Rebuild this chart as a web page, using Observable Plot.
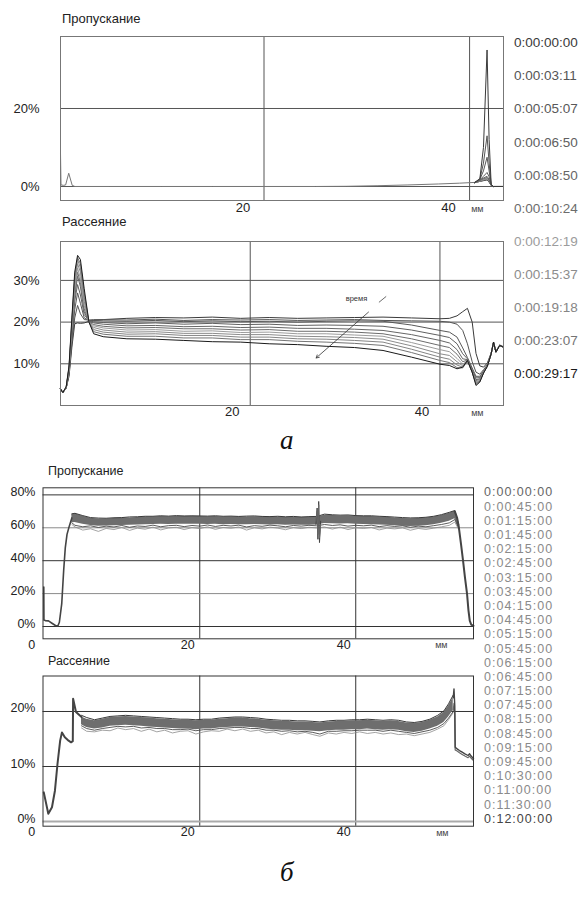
<!DOCTYPE html>
<html><head><meta charset="utf-8">
<script src="https://cdn.jsdelivr.net/npm/d3@7"></script>
<script src="https://cdn.jsdelivr.net/npm/@observablehq/plot@0.6"></script>
<style>
body{margin:0;background:#fff;}
#page{position:relative;width:579px;height:897px;overflow:hidden;font-family:"Liberation Sans",Arial,sans-serif;color:#222;}
.abs{position:absolute;white-space:nowrap;line-height:1;}
</style></head><body><div id="page"></div>
<script>
// ---------- Panel а : time labels ----------
const timesA = ["0:00:00:00","0:00:03:11","0:00:05:07","0:00:06:50","0:00:08:50","0:00:10:24","0:00:12:19","0:00:15:37","0:00:19:18","0:00:23:07","0:00:29:17"];
const colorsA = ["#3a3a3a","#555555","#585858","#606060","#666666","#6c6c6c","#9c9c9c","#8c8c8c","#858585","#747474","#1a1a1a"];

// ---------- Panel а, Пропускание ----------
const baseXA1 = [0.2, 0.25, 0.5, 0.7, 1.0, 1.34, 1.6, 5, 10, 15, 20, 25, 28, 31, 34, 37, 39, 40.5];
const baseYA1 = [8.5, 0.4, 0.3, 0.4, 3.4, 0.3, 0, 0, 0, 0, 0, 0, 0.05, 0.2, 0.4, 0.65, 0.85, 1.05];
const spikeXA1 = [40.5, 41.0, 41.35, 41.7, 41.9, 42.1, 42.3, 43.3];
const spikesA1 = [
  [1.05, 2.0, 10, 35, 12, 0.6, 0, 0],
  [1.0, 1.9, 6, 13, 6, 0.5, 0, 0],
  [1.0, 1.8, 4, 7.5, 4, 0.4, 0, 0],
  [1.0, 1.7, 2.6, 3.6, 2.5, 0.4, 0, 0],
  [1.0, 1.6, 2.2, 2.6, 1.8, 0.3, 0, 0],
  [1.0, 1.5, 2.0, 2.3, 1.6, 0.3, 0, 0],
  [1.0, 1.5, 1.9, 2.1, 1.5, 0.3, 0, 0],
  [1.0, 1.4, 1.8, 2.0, 1.4, 0.3, 0, 0],
  [1.0, 1.4, 1.7, 1.9, 1.3, 0.3, 0, 0],
  [1.0, 1.3, 1.6, 1.8, 1.2, 0.3, 0, 0],
  [1.0, 1.3, 1.5, 1.7, 1.1, 0.3, 0, 0]
];
const xTicksA = [20, 40];
const yTicksA1 = [0, 20];

// ---------- Panel а, Рассеяние ----------
const xsA2 = [0, 0.25, 0.6, 0.9, 1.2, 1.5, 1.8, 2.1, 2.5, 3.0, 3.5,
  4.5, 7, 10, 13, 16, 19, 22, 25, 28, 31, 34, 37, 40,
  41, 41.8, 42.4, 42.9, 43.4, 43.8, 44.2, 44.6, 45.0, 45.4, 45.65, 45.9, 46.3, 46.7];
const seriesA2 = [
  [4.0,3.1,4.2,7.0,14.0,19.6,19.8,19.7,19.8,20.2,20.4, 20.6,20.9,21.1,21.0,21.2,20.9,21.1,20.9,21.0,21.1,21.2,21.0,20.8, 20.9,21.5,22.5,23.3,20.0,12.5,9.5,9.2,10.2,12.6,15.0,13.0,14.5,14.1],
  [4.0,3.1,4.2,7.5,15.0,21.0,24.0,22.0,20.6,20.5,20.6, 20.6,20.5,20.7,20.4,20.6,20.5,20.6,20.4,20.5,20.6,20.4,20.3,20.2, 20.0,19.5,18.0,14.8,10.5,8.0,7.5,8.6,9.8,12.5,15.1,12.9,14.5,14.0],
  [4.0,3.1,4.2,7.8,16.0,23.0,27.0,24.5,21.0,20.4,20.4, 20.3,20.2,20.4,20.1,20.3,20.1,20.2,20.0,20.2,20.3,20.2,19.3,18.0, 17.6,16.4,13.8,11.5,9.0,7.0,7.0,8.3,9.7,12.5,15.1,12.9,14.4,14.0],
  [4.0,3.1,4.2,8.0,17.0,25.0,29.0,26.5,21.8,20.3,20.1, 19.9,19.6,19.8,19.5,19.7,19.4,19.5,19.2,19.3,19.2,19.0,18.1,16.8, 16.3,14.8,12.4,11.2,8.6,6.6,6.7,8.2,9.6,12.4,15.1,12.8,14.4,14.0],
  [4.0,3.1,4.3,8.2,18.0,26.0,31.0,28.5,22.5,20.1,19.8, 19.5,19.1,19.2,18.9,19.0,18.7,18.8,18.5,18.5,18.3,18.0,17.0,15.6, 15.0,13.4,11.2,11.0,8.3,6.2,6.4,8.1,9.6,12.4,15.2,12.8,14.4,14.0],
  [4.0,3.1,4.3,8.4,18.5,27.0,32.0,29.5,23.2,20.0,19.4, 19.0,18.6,18.7,18.4,18.4,18.1,18.2,17.8,17.8,17.6,17.2,16.0,14.4, 13.9,12.3,10.5,10.9,8.2,6.0,6.2,8.0,9.5,12.4,15.2,12.8,14.4,14.0],
  [4.0,3.1,4.3,8.6,19.0,28.0,33.0,30.5,24.0,20.0,19.1, 18.6,18.1,18.2,17.8,17.9,17.5,17.6,17.2,17.2,16.9,16.6,15.1,13.4, 12.9,11.3,9.9,10.8,8.1,5.7,6.0,8.0,9.5,12.4,15.2,12.8,14.4,14.0],
  [4.0,3.1,4.4,8.8,19.5,29.0,34.0,32.0,25.0,20.0,18.7, 18.1,17.6,17.7,17.3,17.3,17.0,17.0,16.6,16.5,16.3,15.9,14.3,12.4, 12.0,10.5,9.5,10.8,8.0,5.5,5.9,7.9,9.5,12.4,15.2,12.8,14.4,14.0],
  [4.0,3.1,4.4,9.0,20.0,30.0,35.0,33.0,26.0,20.0,18.2, 17.6,17.1,17.2,16.8,16.8,16.4,16.4,16.0,15.9,15.6,15.2,13.5,11.6, 11.1,9.7,9.2,10.8,8.0,5.3,5.8,7.9,9.4,12.4,15.2,12.8,14.4,14.0],
  [4.0,3.1,4.5,9.2,20.5,31.0,35.5,34.0,27.0,20.0,17.7, 17.1,16.6,16.6,16.2,16.2,15.8,15.8,15.4,15.2,14.9,14.4,12.7,10.8, 10.3,9.1,9.0,10.7,7.9,5.1,5.7,7.8,9.4,12.3,15.2,12.8,14.4,13.9],
  [4.0,3.1,4.5,9.5,21.0,32.0,36.0,35.0,28.0,20.0,17.2, 16.5,16.0,15.9,15.6,15.3,15.2,14.8,14.6,14.2,13.9,13.2,11.6,9.9, 9.6,8.8,9.2,10.8,8.0,4.8,5.6,7.8,9.4,12.4,15.2,12.8,14.4,14.0]
];
const yTicksA2 = [10, 20, 30];
const arrowA2 = [{x1: 32.47, y1: 22.4, x2: 26.95, y2: 11.4}];
const dashXA2 = [33.6, 34.3];
const dashYA2 = [24.8, 26.1];
const noteA2 = [{x: 31.2, y: 25.6, text: "время"}];

// ---------- Panel б : time labels ----------
const timesB = ["0:00:00:00","0:00:45:00","0:01:15:00","0:01:45:00","0:02:15:00","0:02:45:00","0:03:15:00","0:03:45:00","0:04:15:00","0:04:45:00","0:05:15:00","0:05:45:00","0:06:15:00","0:06:45:00","0:07:15:00","0:07:45:00","0:08:15:00","0:08:45:00","0:09:15:00","0:09:45:00","0:10:30:00","0:11:00:00","0:11:30:00","0:12:00:00"];

// ---------- Panel б, Пропускание ----------
const leftXB1 = [0, 0.02, 0.2, 0.6, 1.05, 1.5, 1.8, 2.0, 2.3, 2.55, 2.76, 2.98, 3.27, 3.6];
const leftYB1 = [24, 4, 3.6, 3.4, 2.0, 0.6, 0.3, 2.6, 13.7, 34, 48, 56, 61, 66];
const bandXB1 = [3.6, 4, 5, 6, 7, 8, 9, 10, 11, 12, 13, 14, 15, 16, 17, 18, 19, 20, 21, 22, 23, 24, 25, 26, 27, 28, 29, 30, 31, 32, 33, 34, 35, 36, 37, 38, 39, 40, 41, 42, 43, 44, 45, 46, 47, 48, 49, 50, 51, 52, 52.7, 53.2];
const topB1 = [68, 68.5, 67, 65.8, 65.3, 65.4, 65.6, 65.8, 66, 66.3, 66.5, 66.6, 66.8, 66.7, 66.9, 66.8, 66.9, 66.8, 66.7, 66.8, 66.6, 66.7, 66.5, 66.6, 66.7, 66.5, 66.4, 66.5, 66.3, 66.4, 66.2, 66.3, 66.4, 67.6, 67.4, 67.2, 67.3, 67.0, 66.9, 66.8, 66.6, 66.4, 66.0, 65.7, 65.5, 65.6, 65.9, 66.5, 67.5, 68.8, 70, 62];
const bottomB1 = [63, 63.2, 62.2, 61.4, 61.0, 61.1, 61.2, 61.4, 61.5, 61.7, 61.9, 62.0, 62.1, 62.0, 62.2, 62.1, 62.2, 62.1, 62.0, 62.1, 61.9, 62.0, 61.8, 61.9, 62.0, 61.8, 61.7, 61.8, 61.6, 61.7, 61.5, 61.6, 61.7, 62.6, 62.5, 62.3, 62.4, 62.1, 62.0, 61.9, 61.7, 61.5, 61.2, 60.9, 60.8, 60.9, 61.2, 61.8, 62.8, 64.0, 65.5, 60];
const lowB1 = [62, 60.5, 58.6, 59.4, 57.8, 59.6, 58.9, 60.2, 58.4, 59.8, 59.1, 60.4, 58.7, 59.9, 60.3, 58.9, 60.1, 59.5, 60.6, 59.0, 60.2, 59.7, 60.5, 58.6, 60.0, 59.3, 60.4, 59.8, 58.8, 60.1, 59.5, 60.3, 59.9, 60.5, 59.2, 60.4, 58.9, 60.0, 59.6, 60.2, 58.7, 59.8, 59.3, 60.0, 58.5, 59.6, 59.0, 59.8, 60.6, 61.5, 63.5, 59];
const midB1 = [63, 61.5, 60.6, 61.2, 60.2, 61.0, 60.5, 61.4, 60.3, 61.1, 60.8, 61.6, 60.6, 61.3, 61.5, 60.7, 61.4, 61.0, 61.7, 60.8, 61.5, 61.1, 61.6, 60.5, 61.3, 60.9, 61.6, 61.2, 60.6, 61.4, 61.0, 61.5, 61.2, 62.0, 61.4, 61.8, 61.0, 61.5, 61.2, 61.6, 60.7, 61.3, 60.8, 61.2, 60.3, 61.0, 60.6, 61.3, 62.0, 63.0, 65, 60];
const highB1 = [68.5, 68.8, 67.4, 66.2, 65.9, 65.8, 66.1, 66.2, 66.6, 66.7, 67.0, 67.0, 67.3, 67.1, 67.4, 67.2, 67.3, 67.2, 67.1, 67.3, 67.0, 67.1, 66.9, 67.1, 67.2, 66.9, 66.8, 67.0, 66.7, 66.9, 66.6, 66.8, 66.9, 68.3, 67.9, 67.7, 67.8, 67.4, 67.3, 67.3, 67.0, 66.8, 66.5, 66.2, 66.0, 66.1, 66.4, 67.0, 68.0, 69.4, 70.5, 62];
const spikeXB1 = [34.9, 35.05, 35.15, 35.25, 35.35, 35.5];
const spikeYB1a = [62, 72, 53, 76, 51, 64];
const spikeYB1b = [64, 70, 56, 74, 54, 62];
const rightXB1 = [52.7, 53.0, 53.2, 53.5, 53.76, 54.0, 54.27, 54.45, 54.62, 54.8, 55.05, 55.1];
const rightYB1 = [70, 66, 61, 50, 40, 30, 20, 10, 3.6, 1.2, 0.5, 0.5];
const xTicksB = [0, 20, 40];
const yTicksB1 = [0, 20, 40, 60, 80];

// ---------- Panel б, Рассеяние ----------
const leftXB2 = [0, 0.58, 1.05, 1.43, 1.76, 2.1, 2.33, 2.7, 3.18, 3.5, 3.72, 3.76, 4.13, 4.84];
const leftYB2 = [5.3, 1.4, 2.6, 5.6, 10.5, 14.7, 16.2, 15.3, 14.7, 14.4, 14.6, 22.3, 19.9, 19.0];
const bandXB2 = [4.84, 5.5, 6.5, 7.5, 8.5, 9.5, 10.5, 11.5, 12.5, 13.5, 14.5, 15.5, 16.5, 17.5, 18.5, 19.5, 20.5, 21.5, 22.5, 23.5, 24.5, 25.5, 26.5, 27.5, 28.5, 29.5, 30.5, 31.5, 32.5, 33.5, 34.5, 35.4, 36.5, 37.5, 38.5, 39.5, 40.5, 41.5, 42.5, 43.5, 44.5, 45.5, 46.5, 47.5, 48.5, 49.5, 50.5, 51.3, 51.9, 52.5];
const topB2 = [19.0, 18.6, 18.3, 18.6, 18.9, 19.0, 19.1, 19.0, 18.9, 18.8, 18.7, 18.6, 18.5, 18.4, 18.4, 18.3, 18.4, 18.4, 18.6, 18.7, 18.8, 18.8, 18.7, 18.6, 18.4, 18.3, 18.2, 18.2, 18.1, 18.1, 18.0, 17.9, 18.1, 18.2, 18.2, 18.3, 18.3, 18.4, 18.3, 18.2, 18.3, 18.2, 17.9, 17.8, 18.0, 18.4, 19.0, 19.8, 21.0, 22.5];
const bottomB2 = [17.6, 17.1, 16.8, 17.0, 17.3, 17.4, 17.5, 17.4, 17.3, 17.2, 17.1, 17.0, 16.9, 16.8, 16.8, 16.7, 16.8, 16.8, 17.0, 17.1, 17.2, 17.2, 17.1, 17.0, 16.8, 16.7, 16.6, 16.6, 16.5, 16.5, 16.4, 16.3, 16.5, 16.6, 16.6, 16.7, 16.7, 16.8, 16.7, 16.6, 16.7, 16.6, 16.3, 16.2, 16.4, 16.8, 17.3, 18.0, 19.0, 20.2];
const lowB2 = [17.0, 16.4, 16.3, 16.6, 16.5, 17.0, 16.7, 16.9, 16.4, 16.8, 16.3, 16.6, 16.1, 16.4, 16.5, 15.9, 16.3, 16.5, 16.4, 16.8, 16.5, 16.8, 16.4, 16.6, 16.1, 16.3, 15.8, 16.2, 15.9, 16.2, 15.8, 15.5, 16.1, 15.9, 16.2, 16.0, 16.3, 16.0, 16.2, 15.9, 16.1, 15.8, 15.9, 15.6, 15.9, 16.2, 16.8, 17.4, 18.5, 19.8];
const midB2 = [17.4, 16.9, 16.6, 16.9, 17.1, 17.3, 17.2, 17.3, 17.0, 17.1, 16.9, 16.9, 16.7, 16.7, 16.8, 16.5, 16.7, 16.7, 16.9, 17.0, 17.1, 17.1, 16.9, 16.9, 16.6, 16.6, 16.4, 16.5, 16.3, 16.4, 16.2, 15.9, 16.4, 16.4, 16.5, 16.5, 16.6, 16.6, 16.6, 16.4, 16.6, 16.4, 16.2, 16.0, 16.3, 16.6, 17.1, 17.8, 18.8, 20.0];
const highB2 = [19.3, 18.9, 18.5, 18.8, 19.1, 19.2, 19.3, 19.2, 19.1, 19.0, 18.9, 18.8, 18.7, 18.6, 18.6, 18.5, 18.6, 18.6, 18.8, 18.9, 19.0, 19.0, 18.9, 18.8, 18.6, 18.5, 18.4, 18.4, 18.3, 18.3, 18.2, 18.1, 18.3, 18.4, 18.4, 18.5, 18.5, 18.6, 18.5, 18.4, 18.5, 18.4, 18.1, 18.0, 18.2, 18.6, 19.3, 20.1, 21.4, 23.0];
const rightXB2 = [52.5, 52.6, 52.7, 52.75, 53.0, 53.3, 53.65, 54.0, 54.4, 54.6, 54.8, 55.1];
const rightYB2 = [22.5, 24.1, 21.0, 13.5, 13.2, 12.9, 12.6, 12.3, 12.0, 12.3, 11.9, 11.4];
const rightYB2b = [20.2, 21.5, 19.5, 13.0, 12.8, 12.5, 12.2, 11.9, 11.6, 11.9, 11.5, 11.1];
const yTicksB2 = [0, 10, 20];

// ---------- helpers ----------
const page = document.getElementById("page");
const pts = (xs, ys) => xs.map((x, i) => ({x, y: ys[i]}));
const band = (xs, lo, hi) => xs.map((x, i) => ({x, y1: lo[i], y2: hi[i]}));
const FONT = '"Liberation Sans", Arial, sans-serif';
const style = {fontFamily: FONT, fontSize: "13px", background: "transparent", color: "#222", overflow: "visible"};
function place(el, top) { el.style.position = "absolute"; el.style.left = "0px"; el.style.top = top + "px"; page.appendChild(el); }
function text(str, left, cy, size, color, extra) {
  const d = document.createElement("div");
  d.className = "abs"; d.textContent = str;
  d.style.left = left + "px"; d.style.top = (cy - size / 2) + "px";
  d.style.fontSize = size + "px"; d.style.color = color || "#222";
  if (extra) Object.assign(d.style, extra);
  page.appendChild(d);
}

// ---------- Plot а1 ----------
const pA1 = Plot.plot({
  width: 579, height: 230, marginLeft: 60, marginRight: 76, marginTop: 36, marginBottom: 30,
  x: {domain: [0.2, 43.3], label: null}, y: {domain: [-3.59, 38.46], label: null}, style,
  marks: [
    Plot.ruleX(xTicksA, {stroke: "#555", strokeWidth: 1}),
    Plot.ruleY(yTicksA1, {stroke: "#555", strokeWidth: 1}),
    Plot.line(pts(baseXA1, baseYA1), {x: "x", y: "y", stroke: "#777", strokeWidth: 1}),
    ...spikesA1.slice().reverse().map((ys, k) => Plot.line(pts(spikeXA1, ys), {x: "x", y: "y", stroke: colorsA[spikesA1.length - 1 - k], strokeWidth: 1})),
    Plot.frame({stroke: "#777"}),
    Plot.axisY(yTicksA1, {tickSize: 0, tickPadding: 21, tickFormat: d => d + "%", fontSize: 13, fill: "#222", label: null}),
    Plot.axisX(xTicksA, {tickSize: 0, tickPadding: 2, dx: -21, fontSize: 13, fill: "#222", label: null}),
    Plot.text(["мм"], {frameAnchor: "bottom-right", dx: -20, dy: 11, fontSize: 9, fill: "#444"})
  ]
});
place(pA1, 0);

// ---------- Plot а2 ----------
const pA2 = Plot.plot({
  width: 579, height: 200, marginLeft: 60, marginRight: 76, marginTop: 11, marginBottom: 25,
  x: {domain: [0, 46.7], label: null}, y: {domain: [0, 39.33], label: null}, style,
  marks: [
    Plot.ruleX(xTicksA, {stroke: "#555", strokeWidth: 1}),
    Plot.ruleY(yTicksA2, {stroke: "#555", strokeWidth: 1}),
    ...seriesA2.map((ys, i) => Plot.line(pts(xsA2, ys), {x: "x", y: "y", stroke: colorsA[i], strokeWidth: 1})),
    Plot.arrow(arrowA2, {x1: "x1", y1: "y1", x2: "x2", y2: "y2", stroke: "#333", strokeWidth: 0.8, headLength: 6}),
    Plot.line(pts(dashXA2, dashYA2), {x: "x", y: "y", stroke: "#444", strokeWidth: 0.8}),
    Plot.text(noteA2, {x: "x", y: "y", text: "text", fontSize: 7.5, fill: "#333"}),
    Plot.frame({stroke: "#777"}),
    Plot.axisY(yTicksA2, {tickSize: 0, tickPadding: 21, tickFormat: d => d + "%", fontSize: 13, fill: "#222", label: null}),
    Plot.axisX(xTicksA, {tickSize: 0, tickPadding: 1.5, dx: -18, fontSize: 13, fill: "#222", label: null}),
    Plot.text(["мм"], {frameAnchor: "bottom-right", dx: -20, dy: 10, fontSize: 9, fill: "#444"})
  ]
});
place(pA2, 230);

// ---------- Plot б1 ----------
const pB1 = Plot.plot({
  width: 579, height: 175, marginLeft: 42.5, marginRight: 106, marginTop: 7.3, marginBottom: 16.7,
  x: {domain: [-0.1, 55.1], label: null}, y: {domain: [-7.47, 84.3], label: null}, style,
  marks: [
    Plot.ruleX([20, 40], {stroke: "#333"}),
    Plot.ruleY(yTicksB1, {stroke: d => (d === 20 || d === 60) ? "#8a8a8a" : "#333"}),
    Plot.areaY(band(bandXB1, bottomB1, topB1), {x: "x", y1: "y1", y2: "y2", fill: "#6e6e6e"}),
    Plot.line(pts(bandXB1, lowB1), {x: "x", y: "y", stroke: "#8c8c8c", strokeWidth: 0.8}),
    Plot.line(pts(bandXB1, midB1), {x: "x", y: "y", stroke: "#4a4a4a", strokeWidth: 0.9}),
    Plot.line(pts(bandXB1, highB1), {x: "x", y: "y", stroke: "#3a3a3a", strokeWidth: 1}),
    Plot.line(pts(leftXB1, leftYB1), {x: "x", y: "y", stroke: "#444", strokeWidth: 1.6}),
    Plot.line(pts(rightXB1, rightYB1), {x: "x", y: "y", stroke: "#444", strokeWidth: 2}),
    Plot.line(pts(spikeXB1, spikeYB1a), {x: "x", y: "y", stroke: "#444", strokeWidth: 1}),
    Plot.line(pts(spikeXB1, spikeYB1b), {x: "x", y: "y", stroke: "#666", strokeWidth: 1}),
    Plot.frame({stroke: "#333"}),
    Plot.axisY(yTicksB1, {tickSize: 0, tickPadding: 7.5, dy: -3, tickFormat: d => d + "%", fontSize: 12.5, fill: "#222", label: null}),
    Plot.axisX(xTicksB, {tickSize: 0, tickPadding: 1, dx: -12, fontSize: 12.5, fill: "#222", label: null}),
    Plot.text(["мм"], {frameAnchor: "bottom-right", dx: -26, dy: 9, fontSize: 9, fill: "#444"})
  ]
});
place(pB1, 480);

// ---------- Plot б2 ----------
const pB2 = Plot.plot({
  width: 579, height: 180, marginLeft: 42.5, marginRight: 106, marginTop: 10.5, marginBottom: 19.3,
  x: {domain: [-0.1, 55.1], label: null}, y: {domain: [-0.85, 26.45], label: null}, style,
  marks: [
    Plot.ruleX([20, 40], {stroke: "#333"}),
    Plot.ruleY([10, 20], {stroke: "#333"}),
    Plot.ruleY([0], {stroke: "#aaa", strokeWidth: 2}),
    Plot.areaY(band(bandXB2, bottomB2, topB2), {x: "x", y1: "y1", y2: "y2", fill: "#6e6e6e"}),
    Plot.line(pts(bandXB2, lowB2), {x: "x", y: "y", stroke: "#8c8c8c", strokeWidth: 0.8}),
    Plot.line(pts(bandXB2, midB2), {x: "x", y: "y", stroke: "#4a4a4a", strokeWidth: 0.9}),
    Plot.line(pts(bandXB2, highB2), {x: "x", y: "y", stroke: "#3a3a3a", strokeWidth: 1}),
    Plot.line(pts(leftXB2, leftYB2), {x: "x", y: "y", stroke: "#444", strokeWidth: 2}),
    Plot.line(pts(rightXB2, rightYB2b), {x: "x", y: "y", stroke: "#666", strokeWidth: 1.2}),
    Plot.line(pts(rightXB2, rightYB2), {x: "x", y: "y", stroke: "#444", strokeWidth: 1.4}),
    Plot.frame({stroke: "#333"}),
    Plot.axisY(yTicksB2, {tickSize: 0, tickPadding: 7.5, dy: -3, tickFormat: d => d + "%", fontSize: 12.5, fill: "#222", label: null}),
    Plot.axisX(xTicksB, {tickSize: 0, tickPadding: 1, dx: -12, fontSize: 12.5, fill: "#222", label: null}),
    Plot.text(["мм"], {frameAnchor: "bottom-right", dx: -25, dy: 9.5, fontSize: 9, fill: "#444"})
  ]
});
place(pB2, 665);

// ---------- HTML texts ----------
text("Пропускание", 62, 18, 13);
text("Рассеяние", 62, 221, 13);
text("Пропускание", 48, 471.7, 12.5);
text("Рассеяние", 48, 661.7, 12.5);
timesA.forEach((t, k) => text(t, 514, 43 + 33.1 * k, 13.5, colorsA[k]));
timesB.forEach((t, k) => text(t, 484, 492.7 + 14.19 * k, 12.5, k === 0 ? "#666" : (k === timesB.length - 1 ? "#444" : "#8a8a8a"), {letterSpacing: "1px"}));
text("а", 280, 440, 27, "#111", {fontFamily: '"Liberation Serif", "Times New Roman", serif', fontStyle: "italic"});
text("б", 280, 872, 27, "#111", {fontFamily: '"Liberation Serif", "Times New Roman", serif', fontStyle: "italic"});
</script></body></html>
